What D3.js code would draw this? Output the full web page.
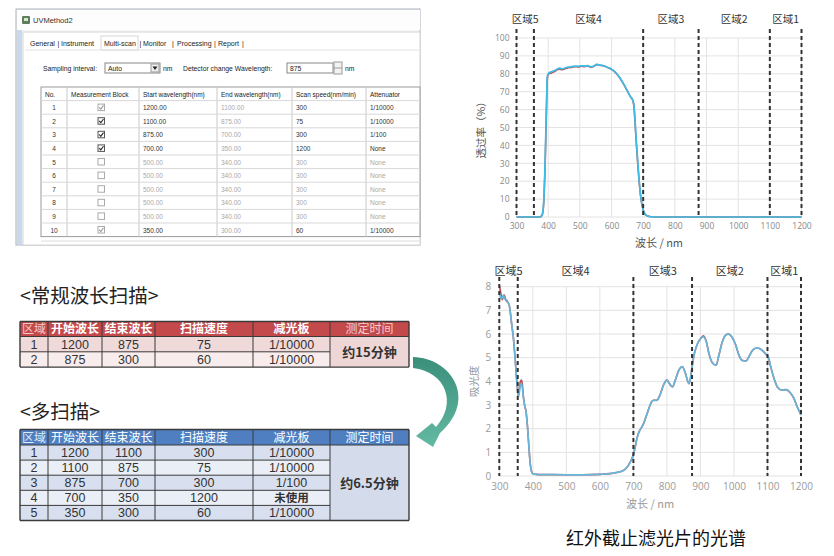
<!DOCTYPE html>
<html><head><meta charset="utf-8">
<script src="https://cdn.jsdelivr.net/npm/d3@7"></script>
<style>body{margin:0;background:#fff;} svg{display:block;font-family:"Noto Sans CJK SC","Noto Sans",sans-serif;}</style>
</head><body><svg id="c" width="834" height="556"></svg>
<script>
// ---------------- DATA ----------------
const regionBounds = [300, 355, 700, 875, 1100, 1200];
const regionLabels = ["区域5", "区域4", "区域3", "区域2", "区域1"];
const wlTicks = [300, 400, 500, 600, 700, 800, 900, 1000, 1100, 1200];
const transTicks = [0, 10, 20, 30, 40, 50, 60, 70, 80, 90, 100];
const absTicks = [0, 1, 2, 3, 4, 5, 6, 7, 8];

const transWl   = [300,350,372,378,381,384,387,390,393,395,397,400,405,412,420,428,436,445,455,465,475,485,495,505,515,525,535,545,553,560,570,580,590,600,610,620,630,640,650,660,667,671,674,677,680,684,688,692,696,700,706,712,720,730,745,800,900,1000,1100,1200];
const transCyan = [0,0,0,0.4,1.2,4,12,28,50,64,78,80,80.8,81.2,81.8,82.6,83.2,82.8,83.4,83.8,84,84.3,84.2,84.5,84.3,84.6,83.9,84.4,85.3,85,84.7,84.2,83.4,82.6,81.2,79.3,76.8,73.8,70.5,67.2,65.4,62,55,46,38,28,19,12,7.2,4,1.5,0.7,0.3,0.1,0,0,0,0,0,0];
const transRed  = [0,0,0,0.3,1,3.5,11,26,48,63,76,79.5,80.2,80.6,81.2,82.2,82.6,82.3,82.9,83.4,83.6,84,83.8,84.2,84,84.4,83.6,84.2,85.1,84.9,84.6,84.1,83.3,82.5,81.1,79.2,76.7,73.7,70.4,67.1,65.2,61.5,54,45,37,27,18.5,11.5,7,3.9,1.5,0.7,0.3,0.1,0,0,0,0,0,0];

const absWl   = [300,303,306,309,312,315,318,321,325,330,333,337,342,347,352,355,357,360,363,366,369,372,376,380,384,388,392,396,400,410,430,460,500,550,600,630,650,665,675,685,695,700,705,710,715,720,730,740,750,755,760,770,780,790,800,810,817,825,835,846,855,862,866,870,875,880,890,900,909,918,925,935,947,955,965,975,984,995,1005,1015,1025,1036,1045,1055,1065,1073,1085,1095,1103,1110,1120,1130,1143,1155,1168,1178,1188,1200];
const absCyan = [7.75,7.6,7.5,7.55,7.65,7.55,7.45,7.45,7.35,7.2,6.9,6.4,5.85,5.0,4.05,3.6,3.35,3.55,3.85,3.9,3.7,3.3,2.95,2.7,2.1,1.3,0.55,0.2,0.1,0.07,0.06,0.06,0.05,0.05,0.07,0.1,0.15,0.2,0.28,0.45,0.72,0.9,1.2,1.55,1.8,1.95,2.2,2.6,3.0,3.15,3.2,3.2,3.45,3.85,4.05,3.85,3.77,4.05,4.45,4.62,4.35,4.0,3.9,4.1,4.6,5.05,5.55,5.8,5.88,5.65,5.2,4.8,4.68,5.1,5.65,5.95,6.0,5.85,5.55,5.1,4.88,4.86,5.05,5.3,5.4,5.4,5.3,5.15,5.0,4.6,4.1,3.75,3.63,3.65,3.52,3.3,2.95,2.58];
const absRed  = [8.05,7.85,7.6,7.45,7.6,7.65,7.5,7.4,7.35,7.2,6.9,6.4,5.85,5.0,4.05,3.6,3.4,3.7,4.0,4.05,3.85,3.35,2.95,2.7,2.1,1.3,0.55,0.2,0.1,0.07,0.06,0.06,0.05,0.05,0.07,0.1,0.15,0.2,0.28,0.45,0.72,0.9,1.2,1.55,1.8,1.95,2.2,2.6,3.0,3.15,3.2,3.2,3.45,3.85,4.05,3.85,3.77,4.05,4.45,4.62,4.35,4.0,3.9,4.1,4.6,5.05,5.55,5.8,5.92,5.65,5.2,4.8,4.68,5.1,5.65,5.95,6.0,5.85,5.55,5.1,4.88,4.86,5.05,5.3,5.4,5.4,5.3,5.15,5.0,4.6,4.1,3.75,3.63,3.65,3.52,3.3,2.95,2.58];

const normalHeader = ["区域", "开始波长", "结束波长", "扫描速度", "减光板", "测定时间"];
const normalRows = [["1", "1200", "875", "75", "1/10000"], ["2", "875", "300", "60", "1/10000"]];
const normalTime = "约15分钟";
const multiRows = [["1", "1200", "1100", "300", "1/10000"], ["2", "1100", "875", "75", "1/10000"], ["3", "875", "700", "300", "1/100"], ["4", "700", "350", "1200", "未使用"], ["5", "350", "300", "60", "1/10000"]];
const multiTime = "约6.5分钟";

const swTabs = ["General", "|", "Instrument", "Multi-scan", "|", "Monitor", "|", "Processing", "|", "Report", "|"];
const swHeader = ["No.", "Measurement Block", "Start wavelength(nm)", "End wavelength(nm)", "Scan speed(nm/min)", "Attenuator"];
const swRows = [
  ["1", "on-gray", "1200.00", "1100.00", "300", "1/10000", 0],
  ["2", "on", "1100.00", "875.00", "75", "1/10000", 0],
  ["3", "on", "875.00", "700.00", "300", "1/100", 0],
  ["4", "on", "700.00", "350.00", "1200", "None", 0],
  ["5", "off", "500.00", "340.00", "300", "None", 1],
  ["6", "off", "500.00", "340.00", "300", "None", 1],
  ["7", "off", "500.00", "340.00", "300", "None", 1],
  ["8", "off", "500.00", "340.00", "300", "None", 1],
  ["9", "off", "500.00", "340.00", "300", "None", 1],
  ["10", "on-gray", "350.00", "300.00", "60", "1/10000", 0]
];

// ---------------- DRAW ----------------
const svg = d3.select("#c");
svg.append("rect").attr("width", 834).attr("height", 556).attr("fill", "#fff");
const LATIN = "'Liberation Sans','DejaVu Sans',sans-serif";

// ===== Software screenshot =====
(function(){
  const g = svg.append("g").style("font-family", LATIN);
  g.append("rect").attr("x", 16).attr("y", 9).attr("width", 404).attr("height", 236).attr("fill", "#f7f7f7").attr("stroke", "#a9b0b8");
  g.append("rect").attr("x", 17).attr("y", 10).attr("width", 403).attr("height", 20).attr("fill", "#fdfdfd");
  g.append("rect").attr("x", 22).attr("y", 16).attr("width", 8).attr("height", 8).attr("fill", "#5d7f5a").attr("rx", 1);
  g.append("rect").attr("x", 24).attr("y", 18).attr("width", 4).attr("height", 3).attr("fill", "#d9e6d4");
  g.append("text").attr("x", 33).attr("y", 23).attr("font-size", 7.5).attr("fill", "#333").text("UVMethod2");
  g.append("rect").attr("x", 17).attr("y", 30).attr("width", 5).attr("height", 215).attr("fill", "#c9d8ec");
  g.append("rect").attr("x", 23).attr("y", 32).attr("width", 397).attr("height", 213).attr("fill", "#fff").attr("stroke", "#d5d5d5");
  // tabs
  const tabX = [30, 57.5, 61, 104, 139.5, 143, 172, 177, 214, 218, 242];
  g.append("rect").attr("x", 101).attr("y", 36).attr("width", 37).attr("height", 14).attr("fill", "#fff").attr("stroke", "#d8d8d8");
  g.selectAll("text.tab").data(swTabs).join("text").attr("class", "tab")
    .attr("x", (d, i) => tabX[i]).attr("y", 46).attr("font-size", 7).attr("fill", "#222").text(d => d);
  g.append("line").attr("x1", 25).attr("x2", 420).attr("y1", 50).attr("y2", 50).attr("stroke", "#e2e2e2");
  // sampling row
  g.append("text").attr("x", 43).attr("y", 71).attr("font-size", 6.8).attr("fill", "#222").text("Sampling interval:");
  g.append("rect").attr("x", 105).attr("y", 63).attr("width", 55).attr("height", 10).attr("fill", "#fff").attr("stroke", "#888");
  g.append("text").attr("x", 108).attr("y", 71).attr("font-size", 6.8).attr("fill", "#222").text("Auto");
  g.append("rect").attr("x", 151).attr("y", 64).attr("width", 8).attr("height", 8).attr("fill", "#eee").attr("stroke", "#999");
  g.append("path").attr("d", "M152.5,66.5 L157.5,66.5 L155,70 Z").attr("fill", "#222");
  g.append("text").attr("x", 163).attr("y", 71).attr("font-size", 6.8).attr("fill", "#222").text("nm");
  g.append("text").attr("x", 183).attr("y", 71).attr("font-size", 6.8).attr("fill", "#222").text("Detector change Wavelength:");
  g.append("rect").attr("x", 287).attr("y", 63).attr("width", 46).attr("height", 10).attr("fill", "#fff").attr("stroke", "#888");
  g.append("text").attr("x", 290).attr("y", 71).attr("font-size", 6.8).attr("fill", "#222").text("875");
  g.append("rect").attr("x", 334).attr("y", 62).attr("width", 8).attr("height", 12).attr("fill", "#f2f2f2").attr("stroke", "#999");
  g.append("line").attr("x1", 334).attr("x2", 342).attr("y1", 68).attr("y2", 68).attr("stroke", "#999");
  g.append("text").attr("x", 345).attr("y", 71).attr("font-size", 6.8).attr("fill", "#222").text("nm");
  // table
  const cx = [41, 67, 139, 217, 292, 366, 420];
  const y0 = 87, rh = 13.6;
  const tb = g.append("g");
  tb.append("rect").attr("x", 41).attr("y", y0).attr("width", 379).attr("height", rh * 11).attr("fill", "#fff").attr("stroke", "#9a9a9a");
  cx.slice(1, 6).forEach(x => tb.append("line").attr("x1", x).attr("x2", x).attr("y1", y0).attr("y2", y0 + rh * 11).attr("stroke", "#c8c8c8"));
  d3.range(1, 11).forEach(i => tb.append("line").attr("x1", 41).attr("x2", 420).attr("y1", y0 + rh * i).attr("y2", y0 + rh * i).attr("stroke", "#d8d8d8"));
  tb.selectAll("text.h").data(swHeader).join("text").attr("class", "h")
    .attr("x", (d, i) => cx[i] + 4).attr("y", y0 + 9.5).attr("font-size", 6.5).attr("fill", "#222").text(d => d);
  swRows.forEach((r, i) => {
    const yy = y0 + rh * (i + 1) + 9.5;
    const gray = r[6] === 1;
    tb.append("text").attr("x", 54).attr("y", yy).attr("text-anchor", "middle").attr("font-size", 6.5).attr("fill", "#333").text(r[0]);
    const bx = 98, by = y0 + rh * (i + 1) + 3.5;
    tb.append("rect").attr("x", bx).attr("y", by).attr("width", 6.5).attr("height", 6.5).attr("fill", "#fff").attr("stroke", r[1] === "on" ? "#555" : "#aaa");
    if (r[1] !== "off") tb.append("path").attr("d", `M${bx + 1.2},${by + 3.2} L${bx + 2.8},${by + 5} L${bx + 5.5},${by + 1.3}`).attr("fill", "none").attr("stroke", r[1] === "on" ? "#222" : "#999").attr("stroke-width", 1.1);
    [2, 3, 4, 5].forEach((c, k) => {
      const col = (gray || c === 3) ? "#a8a8a8" : "#333";
      tb.append("text").attr("x", cx[k + 2] + 4).attr("y", yy).attr("font-size", 6.5).attr("fill", col).text(r[c]);
    });
  });
  g.append("line").attr("x1", 41).attr("x2", 420).attr("y1", 241).attr("y2", 241).attr("stroke", "#ddd");
})();

// ===== Tables =====
const tcx = [20, 48, 102, 155, 253, 330, 409];
function drawTable(title, titleY, header, rows, time, o) {
  const g = svg.append("g");
  g.append("text").attr("x", 20).attr("y", titleY).attr("font-size", 19.5).attr("fill", "#222").text(title);
  const y0 = o.y0, hh = o.hh, rh = o.rh, n = rows.length;
  g.append("rect").attr("x", tcx[0]).attr("y", y0).attr("width", tcx[6] - tcx[0]).attr("height", hh).attr("fill", o.head);
  header.forEach((h, i) => {
    g.append("text").attr("x", (tcx[i] + tcx[i + 1]) / 2).attr("y", y0 + hh / 2 + 4.3).attr("text-anchor", "middle")
      .attr("font-size", 12).attr("font-weight", o.headBold(i) ? 700 : 400).attr("fill", o.headText(i)).text(h);
  });
  rows.forEach((r, j) => {
    const y = y0 + hh + rh * j;
    g.append("rect").attr("x", tcx[0]).attr("y", y).attr("width", tcx[5] - tcx[0]).attr("height", rh).attr("fill", o.rowFill[j % 2]);
    r.forEach((v, i) => {
      const cjk = /[^\x00-\x7f]/.test(v);
      g.append("text").attr("x", (tcx[i] + tcx[i + 1]) / 2).attr("y", y + rh / 2 + (cjk ? 4.2 : 4.5)).attr("text-anchor", "middle")
        .style("font-family", cjk ? null : LATIN)
        .attr("font-size", cjk ? 11.5 : 12.5).attr("font-weight", cjk ? 700 : 400).attr("fill", "#333").text(v);
    });
  });
  const yEnd = y0 + hh + rh * n;
  g.append("rect").attr("x", tcx[5]).attr("y", y0 + hh).attr("width", tcx[6] - tcx[5]).attr("height", rh * n).attr("fill", o.merge);
  g.append("text").attr("x", (tcx[5] + tcx[6]) / 2).attr("y", (y0 + hh + yEnd) / 2 + 5).attr("text-anchor", "middle")
    .attr("font-size", 13).attr("font-weight", o.timeBold ? 700 : 400).attr("fill", "#333").text(time);
  tcx.forEach((x, i) => g.append("line").attr("x1", x).attr("x2", x).attr("y1", y0).attr("y2", yEnd).attr("stroke", "#3a3a3a").attr("stroke-width", (i === 0 || i === 6) ? 1.4 : 1));
  g.append("line").attr("x1", tcx[0]).attr("x2", tcx[6]).attr("y1", y0).attr("y2", y0).attr("stroke", "#3a3a3a").attr("stroke-width", 1.4);
  d3.range(0, n + 1).forEach(j => {
    const y = y0 + hh + rh * j;
    g.append("line").attr("x1", tcx[0]).attr("x2", j === 0 || j === n ? tcx[6] : tcx[5]).attr("y1", y).attr("y2", y).attr("stroke", "#3a3a3a").attr("stroke-width", j === n ? 1.4 : 1);
  });
}
drawTable("<常规波长扫描>", 303, normalHeader, normalRows, normalTime, {
  y0: 321.5, hh: 15, rh: 15.3, head: "#c4494b", rowFill: ["#f0d9d9", "#f8ecec"], merge: "#efd6d6",
  headText: i => (i === 0 || i === 5) ? "#f4c9c9" : "#fff", headBold: i => i > 0 && i < 5, timeBold: true
});
drawTable("<多扫描>", 419, normalHeader, multiRows, multiTime, {
  y0: 429.5, hh: 15.5, rh: 15.1, head: "#4f7fc0", rowFill: ["#d8e0ef", "#eaeef6"], merge: "#d4dcec",
  headText: i => i === 0 ? "#dfe8f6" : "#fff", headBold: i => false, timeBold: true
});

// ===== Arrow =====
const defs = svg.append("defs");
const grad = defs.append("linearGradient").attr("id", "ag").attr("x1", 0).attr("y1", 0).attr("x2", 0).attr("y2", 1);
grad.append("stop").attr("offset", "0%").attr("stop-color", "#3a8f7b");
grad.append("stop").attr("offset", "100%").attr("stop-color", "#63b9a2");
svg.append("path").attr("fill", "url(#ag)")
  .attr("d", "M413,357 C452,358 478,400 440,433 L433,447 L416,436 L432,423 L436,427 C457,404 447,372 413,368 Z");

// ===== Charts =====
function drawChart(o) {
  const g = svg.append("g");
  const x = d3.scaleLinear().domain([300, 1200]).range(o.xr);
  const y = d3.scaleLinear().domain(o.yd).range(o.yr);
  g.selectAll("line.vg").data(wlTicks).join("line").attr("x1", d => x(d)).attr("x2", d => x(d))
    .attr("y1", o.yr[1]).attr("y2", o.yr[0]).attr("stroke", "#e3e3e3").attr("stroke-width", 1);
  g.selectAll("line.hg").data(o.yTicks).join("line").attr("x1", o.xr[0]).attr("x2", o.xr[1])
    .attr("y1", d => y(d)).attr("y2", d => y(d)).attr("stroke", "#e3e3e3").attr("stroke-width", 1);
  const xa = g.append("g").attr("transform", `translate(0,${o.yr[0]})`)
    .call(d3.axisBottom(x).tickValues(wlTicks).tickFormat(d3.format("d")).tickSize(0).tickPadding(o.xPad));
  const ya = g.append("g").attr("transform", `translate(${o.xr[0]},0)`)
    .call(d3.axisLeft(y).tickValues(o.yTicks).tickFormat(d3.format("d")).tickSize(0).tickPadding(o.yPad));
  [xa, ya].forEach(a => {
    a.select(".domain").remove();
    a.selectAll("text").attr("fill", o.tickColor).attr("font-size", o.tickSize).style("font-family", "'Open Sans','Noto Sans',sans-serif");
  });
  const line = d3.line().x(d => x(d[0])).y(d => y(d[1])).curve(d3.curveMonotoneX);
  g.append("path").datum(d3.zip(o.wl, o.red)).attr("d", line).attr("fill", "none").attr("stroke", "#c0504d").attr("stroke-width", 1.6);
  g.append("path").datum(d3.zip(o.wl, o.cyan)).attr("d", line).attr("fill", "none").attr("stroke", o.cyanColor).attr("stroke-width", 1.7);
  g.selectAll("line.rb").data(regionBounds).join("line").attr("x1", d => x(d)).attr("x2", d => x(d))
    .attr("y1", o.dashTop).attr("y2", o.yr[0]).attr("stroke", "#333").attr("stroke-width", 2).attr("stroke-dasharray", "4,3");
  g.selectAll("text.rl").data(regionLabels).join("text")
    .attr("x", (d, i) => (x(regionBounds[i]) + x(regionBounds[i + 1])) / 2)
    .attr("y", o.labelY).attr("text-anchor", "middle").attr("font-size", o.labelSize).attr("fill", "#333").text(d => d);
  g.append("text").attr("x", (o.xr[0] + o.xr[1]) / 2).attr("y", o.xLabY).attr("text-anchor", "middle")
    .attr("font-size", 11).attr("fill", o.axisLabColor).text("波长 / nm");
  g.append("text").attr("transform", `translate(${o.yLabX},${(o.yr[0] + o.yr[1]) / 2}) rotate(-90)`)
    .attr("text-anchor", "middle").attr("font-size", 10.5).attr("fill", o.axisLabColor).text(o.yLabel);
}
drawChart({
  xr: [516.5, 801.5], yd: [0, 100], yr: [217, 38], yTicks: transTicks,
  wl: transWl, cyan: transCyan, red: transRed, cyanColor: "#3bbde9",
  xPad: 6, yPad: 7, tickColor: "#888", tickSize: 8.5,
  dashTop: 29, labelY: 23, labelSize: 10.5, xLabY: 247, yLabX: 485, yLabel: "透过率（%）", axisLabColor: "#555"
});
drawChart({
  xr: [499.3, 801], yd: [0, 8], yr: [476, 286.7], yTicks: absTicks,
  wl: absWl, cyan: absCyan, red: absRed, cyanColor: "#68b5da",
  xPad: 7, yPad: 8, tickColor: "#9a9a9a", tickSize: 10,
  dashTop: 277, labelY: 275, labelSize: 11, xLabY: 508, yLabX: 478, yLabel: "吸光度", axisLabColor: "#999"
});
svg.append("text").attr("x", 656).attr("y", 545).attr("text-anchor", "middle").attr("font-size", 18)
  .attr("fill", "#111").text("红外截止滤光片的光谱");
</script></body></html>
